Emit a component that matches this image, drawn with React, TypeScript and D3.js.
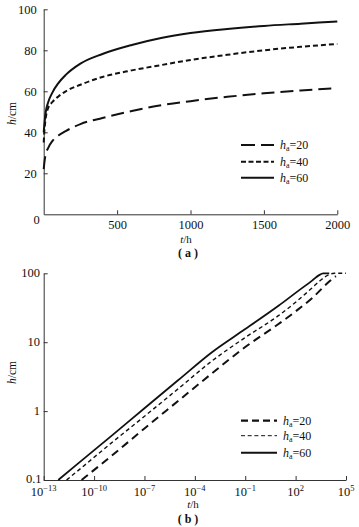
import React, { useEffect, useRef } from 'react';
import * as d3 from 'd3';

// (a) linear plot, h vs t
const hoursA = [0, 5, 12, 30, 60, 100, 150, 250, 400, 600, 800, 1000, 1250, 1500, 1750, 2000];
const headA20 = [22, 25.5, 28.8, 32.3, 35.8, 38.4, 40.6, 44, 47, 50.4, 53.2, 55.2, 57.3, 59, 60.4, 61.5];
const headA40 = [35, 41, 46, 51.8, 54.8, 57.5, 60, 63.2, 67, 70.2, 72.8, 75.3, 77.8, 80, 81.7, 83.1];
const headA60 = [40, 44, 49, 54.5, 59.5, 64, 68, 73.5, 78.2, 82.6, 86, 88.4, 90.4, 91.9, 93, 94.1];
const xTicksA = [500, 1000, 1500, 2000];
const yTicksA = [20, 40, 60, 80, 100];

// (b) log-log plot
const hoursB20 = [1.8e-11, 1e-9, 1e-7, 1e-5, 1e-3, 1e-1, 1e1, 1e2, 1e3, 1e4, 2.5e4];
const headB20 = [0.1, 0.22, 0.56, 1.4, 3.5, 8.5, 18.5, 28, 44, 76, 91];
const hoursB40 = [2.3e-12, 1e-11, 1e-9, 1e-7, 1e-5, 1e-3, 1e-1, 1e1, 1e2, 1e3, 3.2e3, 1e4, 2e4, 1e5];
const headB40 = [0.1, 0.134, 0.34, 0.84, 2.1, 5.3, 11.7, 24.5, 38, 62, 80, 96, 100, 100];
const hoursB60 = [7.4e-13, 1e-11, 1e-9, 1e-7, 1e-5, 1e-3, 1e-1, 1e1, 1e2, 1e3, 2.5e3, 4.4e3, 1e4];
const headB60 = [0.1, 0.17, 0.43, 1.1, 2.8, 7.1, 15.5, 34, 52, 79, 94, 99.5, 100];
const xTickExpB = [-13, -10, -7, -4, -1, 2, 5];
const yTicksB = [0.1, 1, 10, 100];

const seriesNames = ['20', '40', '60'];

const FONT = "'Liberation Serif', 'Times New Roman', serif";
const INK = '#111';

type Style = { width: number; dash: string | null };

const drawAxisTitles = (
  g: d3.Selection<SVGGElement, unknown, null, undefined>,
  yTitleX: number,
  yTitleY: number,
  xTitleX: number,
  xTitleY: number,
  tag: string,
  tagY: number,
) => {
  const yt = g
    .append('text')
    .attr('transform', `translate(${yTitleX},${yTitleY}) rotate(-90)`)
    .attr('text-anchor', 'middle')
    .attr('font-size', 11.5);
  yt.append('tspan').attr('font-style', 'italic').text('h');
  yt.append('tspan').text('/cm');

  const xt = g
    .append('text')
    .attr('x', xTitleX)
    .attr('y', xTitleY)
    .attr('text-anchor', 'middle')
    .attr('font-size', 11);
  xt.append('tspan').attr('font-style', 'italic').text('t');
  xt.append('tspan').text('/h');

  g.append('text')
    .attr('x', 188)
    .attr('y', tagY)
    .attr('text-anchor', 'middle')
    .attr('font-size', 12)
    .attr('font-weight', 'bold')
    .text(`( ${tag} )`);
};

const drawLegend = (
  g: d3.Selection<SVGGElement, unknown, null, undefined>,
  rows: number[],
  x0: number,
  x1: number,
  styles: Style[],
) => {
  seriesNames.forEach((name, i) => {
    const y = rows[i];
    g.append('line')
      .attr('x1', x0)
      .attr('x2', x1)
      .attr('y1', y)
      .attr('y2', y)
      .attr('stroke', INK)
      .attr('stroke-width', styles[i].width)
      .attr('stroke-dasharray', styles[i].dash);
    const t = g
      .append('text')
      .attr('x', x1 + 6)
      .attr('y', y + 4)
      .attr('font-size', 12);
    t.append('tspan').attr('font-style', 'italic').text('h');
    t.append('tspan').attr('font-size', 8).attr('dy', 2).text('a');
    t.append('tspan').attr('dy', -2).text(`=${name}`);
  });
};

const App: React.FC = () => {
  const ref = useRef<SVGSVGElement>(null);

  useEffect(() => {
    if (!ref.current) return;
    const svg = d3.select(ref.current);
    svg.selectAll('*').remove();
    const root = svg.append('g').attr('font-family', FONT).attr('fill', INK);

    // ---------- (a) ----------
    const xA = d3.scaleLinear().domain([0, 2000]).range([43.7, 337.3]);
    const yA = d3.scaleLinear().domain([0, 100]).range([214.3, 9.3]);
    const ga = root.append('g');

    ga.append('g')
      .attr('transform', `translate(${xA(0)},0)`)
      .call(d3.axisLeft(yA).tickValues(yTicksA).tickSizeInner(-4).tickSizeOuter(0).tickPadding(7))
      .call((a) => a.select('.domain').attr('stroke', '#333'))
      .call((a) => a.selectAll('.tick line').attr('stroke', '#333'))
      .call((a) => a.selectAll('text').attr('font-family', FONT).attr('font-size', 12.5).attr('fill', INK));
    ga.append('g')
      .attr('transform', `translate(0,${yA(0)})`)
      .call(
        d3
          .axisBottom(xA)
          .tickValues(xTicksA)
          .tickFormat(d3.format('d'))
          .tickSizeInner(-4)
          .tickSizeOuter(0)
          .tickPadding(6),
      )
      .call((a) => a.select('.domain').attr('stroke', '#333'))
      .call((a) => a.selectAll('.tick line').attr('stroke', '#333'))
      .call((a) => a.selectAll('text').attr('font-family', FONT).attr('font-size', 12.5).attr('fill', INK));
    ga.append('text')
      .attr('x', xA(0) - 7)
      .attr('y', yA(0) + 10)
      .attr('text-anchor', 'middle')
      .attr('font-size', 12.5)
      .text('0');

    const stylesA: Style[] = [
      { width: 2, dash: '13,6' },
      { width: 2, dash: '5,3' },
      { width: 2, dash: null },
    ];
    const lineA = d3
      .line<[number, number]>()
      .x((d) => xA(d[0]))
      .y((d) => yA(d[1]))
      .curve(d3.curveMonotoneX);
    [headA20, headA40, headA60].forEach((vals, i) => {
      ga.append('path')
        .attr('d', lineA(hoursA.map((t, k) => [t, vals[k]] as [number, number])))
        .attr('fill', 'none')
        .attr('stroke', INK)
        .attr('stroke-width', stylesA[i].width)
        .attr('stroke-dasharray', stylesA[i].dash);
    });
    drawLegend(ga, [145, 161.7, 177.7], 241, 274, [
      { width: 2, dash: '14,6' },
      { width: 2, dash: '5,2.5' },
      { width: 2, dash: null },
    ]);
    drawAxisTitles(ga, 15.5, 113.5, 186, 243, 'a', 257);

    // ---------- (b) ----------
    const xB = d3.scaleLog().domain([1e-13, 1e5]).range([43.7, 346]);
    const yB = d3.scaleLog().domain([0.1, 100]).range([480, 273.3]);
    const gb = root.append('g');

    gb.append('g')
      .attr('transform', `translate(${xB(1e-13)},0)`)
      .call(d3.axisLeft(yB).tickValues(yTicksB).tickSizeInner(-4).tickSizeOuter(0).tickFormat(() => ''))
      .call((a) => a.select('.domain').attr('stroke', '#333'))
      .call((a) => a.selectAll('.tick line').attr('stroke', '#333'));
    gb.selectAll('.ylab')
      .data(yTicksB)
      .enter()
      .append('text')
      .attr('class', 'ylab')
      .attr('x', (d) => (d === 0.1 ? 41.5 : 40))
      .attr('y', (d) => yB(d) + (d === 0.1 ? 2.5 : 4))
      .attr('text-anchor', 'end')
      .attr('font-size', 12.5)
      .text((d) => String(d));

    gb.append('g')
      .attr('transform', `translate(0,${yB(0.1)})`)
      .call(
        d3
          .axisBottom(xB)
          .tickValues(xTickExpB.map((e) => Math.pow(10, e)))
          .tickSizeInner(-4)
          .tickSizeOuter(0)
          .tickFormat(() => ''),
      )
      .call((a) => a.select('.domain').attr('stroke', '#333'))
      .call((a) => a.selectAll('.tick line').attr('stroke', '#333'));
    const xl = gb
      .selectAll('.xlab')
      .data(xTickExpB)
      .enter()
      .append('text')
      .attr('class', 'xlab')
      .attr('x', (e) => xB(Math.pow(10, e)))
      .attr('y', 496)
      .attr('text-anchor', 'middle')
      .attr('font-size', 12.5);
    xl.append('tspan').text('10');
    xl.append('tspan')
      .attr('font-size', 8.5)
      .attr('dy', -5)
      .text((e) => (e < 0 ? `\u2212${-e}` : String(e)));

    const stylesB: Style[] = [
      { width: 2, dash: '8,5' },
      { width: 1.4, dash: '4,3' },
      { width: 1.8, dash: null },
    ];
    const lineB = d3
      .line<[number, number]>()
      .x((d) => xB(d[0]))
      .y((d) => yB(d[1]))
      .curve(d3.curveMonotoneX);
    const seriesB: [number[], number[]][] = [
      [hoursB20, headB20],
      [hoursB40, headB40],
      [hoursB60, headB60],
    ];
    seriesB.forEach(([ts, hs], i) => {
      gb.append('path')
        .attr('d', lineB(ts.map((t, k) => [t, hs[k]] as [number, number])))
        .attr('fill', 'none')
        .attr('stroke', INK)
        .attr('stroke-width', stylesB[i].width)
        .attr('stroke-dasharray', stylesB[i].dash);
    });
    drawLegend(gb, [420.7, 435.7, 452.7], 241, 277, [
      { width: 2.2, dash: '7,4' },
      { width: 1, dash: '4,2.7' },
      { width: 2, dash: null },
    ]);
    drawAxisTitles(gb, 15.5, 372.5, 193, 507.5, 'b', 523);
  }, []);

  return (
    <svg
      ref={ref}
      width={359}
      height={527}
      style={{ position: 'absolute', left: 0, top: 0, background: '#fff' }}
    />
  );
};

export default App;
